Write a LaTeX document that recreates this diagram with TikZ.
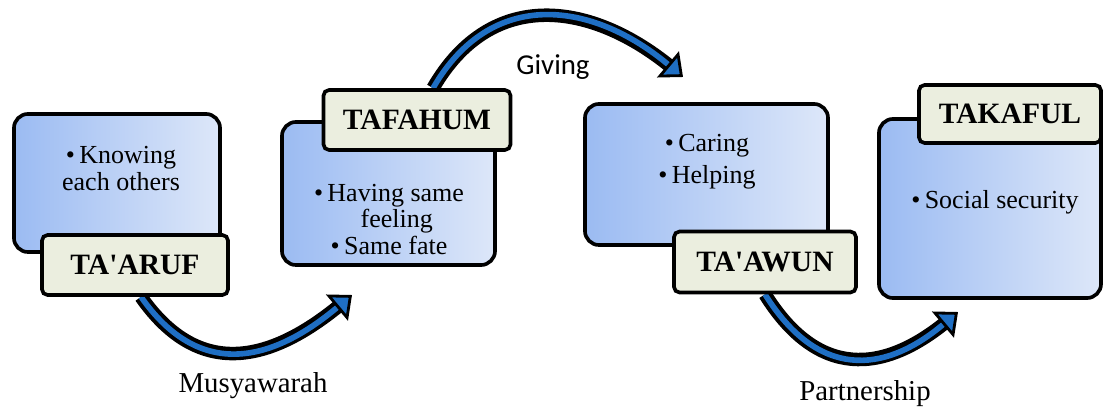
\documentclass[tikz,border=0pt]{standalone}
\usepackage{fontspec}
\setmainfont{Liberation Serif}
\newfontfamily\givingfont{Carlito}
\usepackage{xcolor}
\definecolor{boxdark}{HTML}{9BBBF2}
\definecolor{boxlight}{HTML}{DDE7F9}
\definecolor{tagfill}{HTML}{EBEEDF}
\definecolor{flowblue}{HTML}{1F6FC4}
\usepackage{tikz}
\usetikzlibrary{arrows.meta, backgrounds}

\tikzset{
  panel/.style={draw=black, line width=2.6pt, rounded corners=10pt, left color=boxdark, right color=boxlight, inner sep=0pt},
  tag/.style={draw=black, line width=2.6pt, rounded corners=4pt, fill=tagfill, inner sep=0pt, font=\fontsize{21pt}{24pt}\selectfont\bfseries},
  flow/.style={draw=flowblue, line width=4pt,
    -{Triangle[length=14pt, width=24pt, line width=2pt, color=black, fill=flowblue]},
    preaction={draw=black, line width=9.6pt, arrows=-, shorten >=8pt}},
  flowlabel/.style={font=\fontsize{20.5pt}{24pt}\selectfont}
}

\begin{document}
\begin{tikzpicture}[x=0.025cm, y=0.025cm, font=\fontsize{18.5pt}{19pt}\selectfont]
  \useasboundingbox (0,0) rectangle (1105,408);

  \node[panel, minimum width=5.15cm,  minimum height=3.45cm]  (b1) at (117,225)   {};
  \node[tag,   minimum width=4.65cm,  minimum height=1.5cm]   (t1) at (135,143)   {TA\textquotesingle ARUF};
  \node[panel, minimum width=5.325cm, minimum height=3.575cm] (b2) at (388.5,214.5) {};
  \node[tag,   minimum width=4.675cm, minimum height=1.5cm]   (t2) at (417,288)   {TAFAHUM};
  \node[panel, minimum width=6.075cm, minimum height=3.525cm] (b3) at (706.5,233.5) {};
  \node[tag,   minimum width=4.55cm,  minimum height=1.525cm] (t3) at (765,146)   {TA\textquotesingle AWUN};
  \node[panel, minimum width=5.55cm,  minimum height=4.475cm] (b4) at (990,199.5) {};
  \node[tag,   minimum width=4.55cm,  minimum height=1.45cm]  (t4) at (1010,294)  {TAKAFUL};

  \node[align=center] (x1) at (121,239.5) {\textbullet\,Knowing\\each others};
  \node[align=center] (x2) at (389,188.5) {\textbullet\,Having same\\\hspace{0.6em}feeling\\\textbullet\,Same fate};
  \node[align=center] (x3) at (707,246.5) {\textbullet\,Caring\\[4pt]\textbullet\,Helping};
  \node[align=center] (x4) at (995,206)   {\textbullet\,Social security};

  \node[flowlabel] (l1) at (253,22)  {Musyawarah};
  \node[flowlabel, font=\givingfont\fontsize{20.5pt}{24pt}\selectfont] (l2) at (553,341) {Giving};
  \node[flowlabel] (l3) at (865,14)  {Partnership};

  \coordinate (m1) at (352,113);
  \coordinate (m2) at (683,331);
  \coordinate (m3) at (958,96);

  \begin{scope}[on background layer]
    \draw[flow] ([xshift=0.15cm]t1.south) to[out=-55, in=220, looseness=1.25] (m1);
    \draw[flow] ([xshift=0.4cm]t2.north)  to[out=60,  in=140, looseness=1.2] (m2);
    \draw[flow] (t3.south)                to[out=-58, in=220, looseness=1.3] (m3);
  \end{scope}
\end{tikzpicture}
\end{document}
